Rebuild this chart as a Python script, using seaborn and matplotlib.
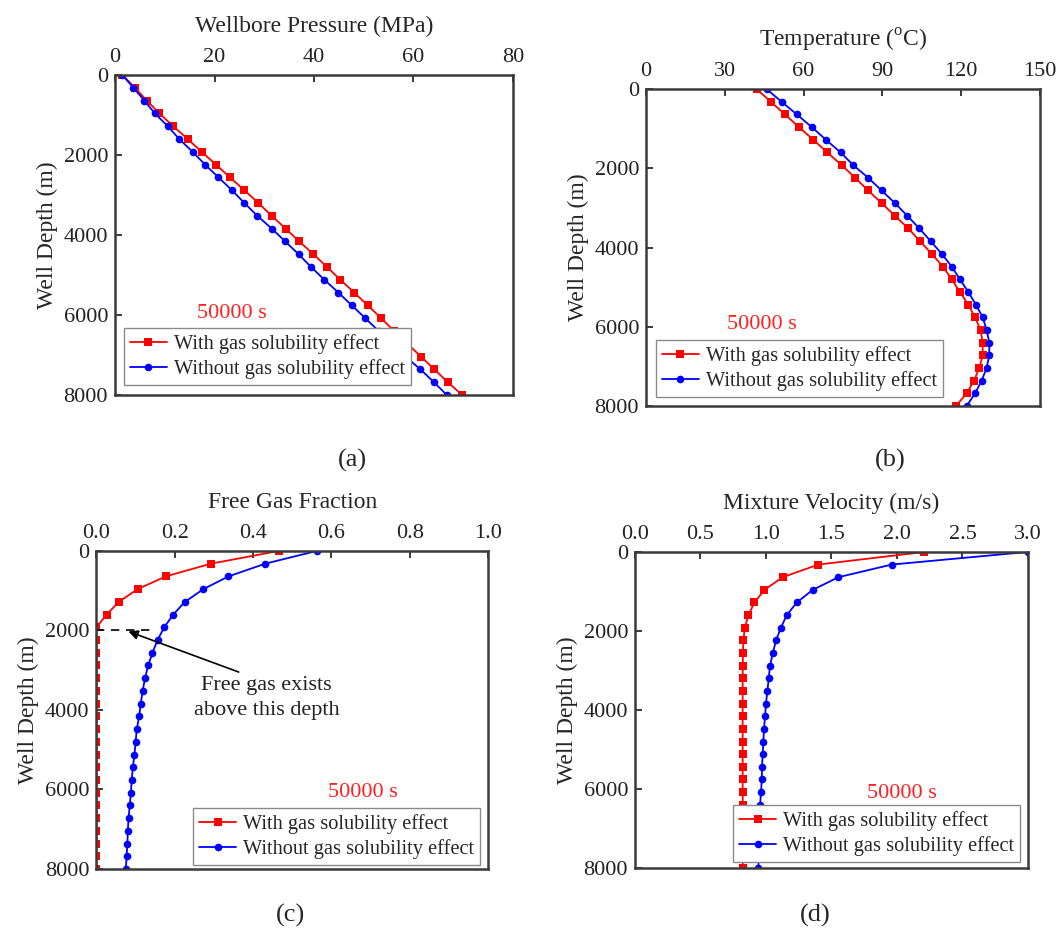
import numpy as np
import pandas as pd
import matplotlib
matplotlib.use("Agg")
import matplotlib.pyplot as plt
import seaborn as sns

# Depth stations along the wellbore (m), every 320 m from surface to 8000 m
depth = [0, 320, 640, 960, 1280, 1600, 1920, 2240, 2560, 2880, 3200, 3520, 3840,
         4160, 4480, 4800, 5120, 5440, 5760, 6080, 6400, 6720, 7040, 7360, 7680, 8000]

# (a) Wellbore pressure (MPa)
pressure_with = [1.5, 4.0, 6.4, 8.9, 11.7, 14.6, 17.4, 20.3, 23.1, 26.0, 28.8, 31.5, 34.3,
                 37.0, 39.9, 42.6, 45.3, 48.1, 50.8, 53.5, 56.1, 58.8, 61.5, 64.2, 66.9, 69.8]
pressure_without = [1.5, 3.7, 5.9, 8.0, 10.6, 12.9, 15.6, 18.1, 20.8, 23.5, 26.0, 28.6, 31.5,
                    34.2, 36.9, 39.4, 42.1, 44.9, 47.6, 50.3, 53.0, 55.7, 58.4, 61.4, 64.1, 66.7]

# (b) Temperature (deg C)
temp_with = [42.1, 47.5, 52.9, 58.2, 63.7, 69.0, 74.5, 79.6, 84.6, 89.7, 94.8, 99.9, 104.3,
             108.8, 113.0, 116.4, 119.5, 122.7, 125.3, 127.4, 128.2, 128.2, 126.9, 124.9, 122.1, 118.0]
temp_without = [45.9, 51.6, 57.4, 63.1, 68.5, 74.1, 78.9, 84.6, 89.7, 94.8, 99.5, 104.1, 108.4,
                112.6, 116.4, 119.5, 122.7, 125.6, 128.2, 129.7, 130.7, 130.7, 129.7, 127.8, 125.3, 122.1]

# (c) Free gas fraction
gas_with = [0.465, 0.292, 0.177, 0.105, 0.057, 0.026, 0.0, 0.0, 0.0, 0.0, 0.0, 0.0, 0.0,
            0.0, 0.0, 0.0, 0.0, 0.0, 0.0, 0.0, 0.0, 0.0, 0.0, 0.0, 0.0, 0.0]
gas_without = [0.562, 0.431, 0.337, 0.273, 0.226, 0.196, 0.173, 0.156, 0.143, 0.132, 0.124, 0.118, 0.113,
               0.109, 0.103, 0.100, 0.097, 0.093, 0.090, 0.088, 0.085, 0.082, 0.080, 0.079, 0.077, 0.075]

# (d) Mixture velocity (m/s)
vel_with = [2.21, 1.40, 1.128, 0.988, 0.912, 0.866, 0.838, 0.828, 0.824, 0.823, 0.822, 0.822, 0.822,
            0.822, 0.822, 0.822, 0.822, 0.822, 0.822, 0.822, 0.823, 0.823, 0.823, 0.823, 0.823, 0.823]
vel_without = [3.00, 1.96, 1.553, 1.357, 1.235, 1.159, 1.113, 1.077, 1.052, 1.031, 1.021, 1.011, 1.000,
               0.993, 0.985, 0.980, 0.975, 0.970, 0.968, 0.962, 0.955, 0.952, 0.950, 0.947, 0.945, 0.942]

case_labels = ["With gas solubility effect", "Without gas solubility effect"]
panel_titles = ["Wellbore Pressure (MPa)", "Temperature ($^{\\mathregular{o}}$C)",
                "Free Gas Fraction", "Mixture Velocity (m/s)"]
panel_tags = ["(a)", "(b)", "(c)", "(d)"]
time_label = "50000 s"
depth_label = "Well Depth (m)"
depth_ticks = [0, 2000, 4000, 6000, 8000]

sns.set_theme(style="ticks")
plt.rcParams["font.family"] = ["Liberation Serif", "DejaVu Serif"]
plt.rcParams["mathtext.fontset"] = "custom"
plt.rcParams["mathtext.rm"] = "Liberation Serif"

fig = plt.figure(figsize=(10.59, 9.42), dpi=100)

axes_rects = [
    [0.1086, 0.5807, 0.3758, 0.3397],
    [0.6100, 0.5690, 0.3720, 0.3365],
    [0.0911, 0.0775, 0.3697, 0.3376],
    [0.5996, 0.0786, 0.3711, 0.3355],
]
series = [
    (pressure_with, pressure_without),
    (temp_with, temp_without),
    (gas_with, gas_without),
    (vel_with, vel_without),
]
xlims = [(0, 80), (0, 150), (0, 1.0), (0, 3.0)]
xticks = [np.arange(0, 81, 20), np.arange(0, 151, 30),
          np.round(np.arange(0, 1.01, 0.2), 1), np.round(np.arange(0, 3.01, 0.5), 1)]
xfmt = ["{:.0f}", "{:.0f}", "{:.1f}", "{:.1f}"]
time_pos = [(0.294, 0.256), (0.294, 0.256), (0.681, 0.239), (0.679, 0.237)]
legend_anchor = [(0.022, 0.031), (0.025, 0.028), (0.247, 0.013), (0.250, 0.019)]
tag_pos = [(0.3324, 0.5117), (0.8405, 0.5117), (0.2740, 0.0287), (0.7696, 0.0287)]

palette = {case_labels[0]: "#ff0000", case_labels[1]: "#0000ff"}
markers = {case_labels[0]: "s", case_labels[1]: "o"}
spine_color = "#3a3a3a"

for i in range(4):
    ax = fig.add_axes(axes_rects[i])
    v_with, v_without = series[i]
    df = pd.DataFrame({
        "value": list(v_with) + list(v_without),
        "depth": list(depth) * 2,
        "case": [case_labels[0]] * len(depth) + [case_labels[1]] * len(depth),
    })
    sns.lineplot(data=df, x="value", y="depth", hue="case", style="case",
                 palette=palette, markers=markers, dashes=False, sort=False,
                 estimator=None, orient="y", ax=ax, linewidth=1.3,
                 markersize=5.5, markeredgewidth=0)

    ax.set_xlim(*xlims[i])
    ax.set_ylim(8000, 0)
    ax.set_xticks(xticks[i])
    ax.set_xticklabels([xfmt[i].format(t) for t in xticks[i]])
    ax.set_yticks(depth_ticks)
    ax.set_yticklabels([str(t) for t in depth_ticks])
    ax.xaxis.tick_top()
    ax.xaxis.set_label_position("top")
    ax.set_xlabel(panel_titles[i], fontsize=17, labelpad=11)
    ax.set_ylabel(depth_label, fontsize=17, labelpad=4)
    ax.tick_params(axis="both", direction="in", length=5, width=1.4,
                   labelsize=16, colors=spine_color, labelcolor="#222222")
    ax.tick_params(axis="x", pad=6)
    ax.tick_params(axis="y", pad=5)
    for sp in ax.spines.values():
        sp.set_visible(True)
        sp.set_color(spine_color)
        sp.set_linewidth(1.8)

    handles, labels = ax.get_legend_handles_labels()
    leg = ax.legend(handles, labels, loc="lower left", bbox_to_anchor=legend_anchor[i],
                    borderaxespad=0, fontsize=14.7, frameon=True, fancybox=False,
                    handlelength=1.8, handletextpad=0.35, labelspacing=0.25,
                    borderpad=0.3, edgecolor="#8a8a8a", framealpha=1)
    leg.get_frame().set_linewidth(1.0)

    ax.text(time_pos[i][0], time_pos[i][1], time_label, transform=ax.transAxes,
            color="#ff2020", fontsize=16, ha="center", va="center")

    if i == 2:
        ax.plot([0, 0.14], [2000, 2000], color="black", linestyle=(0, (5, 4)), linewidth=1.2)
        ax.annotate("", xy=(0.075, 2000), xytext=(0.37, 3070),
                    arrowprops=dict(arrowstyle="-|>", color="black", lw=1.2,
                                    mutation_scale=14))
        ax.text(0.435, 3700, "Free gas exists\nabove this depth", fontsize=16,
                ha="center", va="center", color="#222222", linespacing=1.4)

for tag, (tx, ty) in zip(panel_tags, tag_pos):
    fig.text(tx, ty, tag, fontsize=19, ha="center", va="center")

fig.savefig("out.png", dpi=100, facecolor="white")
